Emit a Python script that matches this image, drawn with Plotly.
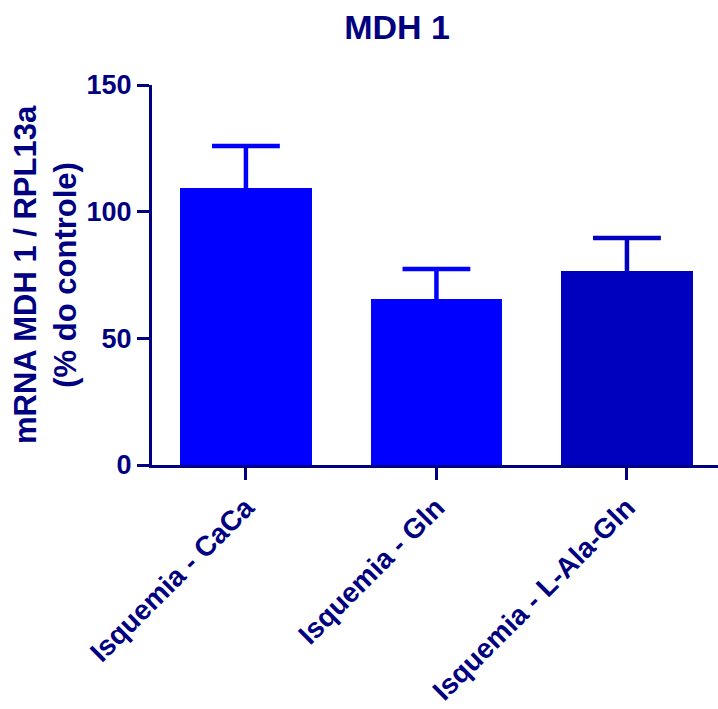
import plotly.graph_objects as go

categories = ["Isquemia - CaCa", "Isquemia - Gln", "Isquemia - L-Ala-Gln"]
means = [109.3, 65.5, 76.6]
sem_plus = [16.6, 11.9, 13.0]
bar_colors = ["#0000FF", "#0000FF", "#0000BF"]
y_ticks = [0, 50, 100, 150]

navy = "#000080"
font_family = "Liberation Sans, Arial, sans-serif"
cap_half = 0.178  # half-width of error-bar caps in category units

fig = go.Figure()
for i, (cat, m, e, c) in enumerate(zip(categories, means, sem_plus, bar_colors)):
    fig.add_trace(go.Bar(
        x=[i], y=[m], width=0.69,
        marker=dict(color=c, line=dict(width=0)),
        showlegend=False, name=cat,
    ))
    fig.add_trace(go.Scatter(
        x=[i, i, None, i - cap_half, i + cap_half],
        y=[m, m + e, None, m + e, m + e],
        mode="lines", line=dict(color=c, width=4.5),
        showlegend=False, hoverinfo="skip",
    ))

fig.update_layout(
    width=718, height=709,
    margin=dict(l=152, r=0, t=85, b=244),
    paper_bgcolor="white", plot_bgcolor="white",
    font=dict(family=font_family, color=navy),
    title=dict(text="<b>MDH 1</b>", x=0.553, xref="container", xanchor="center",
               y=1 - 27 / 709, yref="container", yanchor="middle",
               font=dict(size=34, color=navy, family=font_family)),
    bargap=0,
)
fig.update_xaxes(
    range=[-0.493, 2.478], tickvals=list(range(len(categories))),
    ticktext=["<b>%s</b>" % c for c in categories], tickangle=-45,
    showline=True, linecolor=navy, linewidth=3,
    ticks="outside", ticklen=12, tickwidth=3, tickcolor=navy,
    tickfont=dict(size=28, color=navy, family=font_family),
    showgrid=False, zeroline=False, automargin=False,
)
fig.update_yaxes(
    range=[0, 150], tickvals=y_ticks, ticktext=["<b>%d</b>" % v for v in y_ticks],
    showline=True, linecolor=navy, linewidth=3,
    ticks="outside", ticklen=12, tickwidth=3, tickcolor=navy,
    tickfont=dict(size=27, color=navy, family=font_family),
    showgrid=False, zeroline=False, automargin=False,
)
fig.add_annotation(
    text="<b>mRNA MDH 1 / RPL13a<br>(% do controle)</b>",
    xref="paper", yref="paper", x=-(152 - 45) / 566, y=0.5,
    xanchor="center", yanchor="middle", textangle=-90, showarrow=False,
    font=dict(size=31, color=navy, family=font_family),
)

fig.write_html("out.html")
